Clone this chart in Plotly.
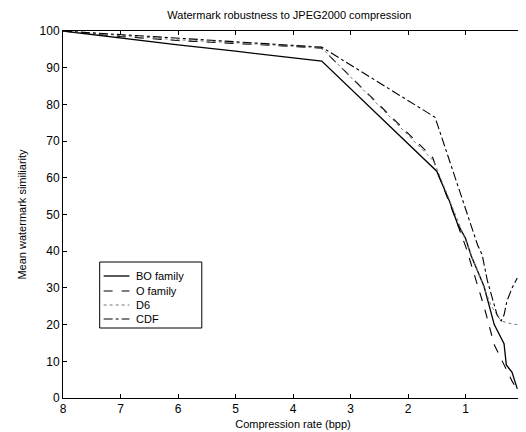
import plotly.graph_objects as go

# Data
bo_x = [8, 7, 6, 5, 4, 3.5, 1.5, 1.28, 1.14, 1.0, 0.9, 0.68, 0.5, 0.33, 0.29, 0.19, 0.1]
bo_y = [100, 98.0, 96.2, 94.5, 92.8, 91.8, 61.8, 53.7, 47.5, 43.5, 38.7, 30.5, 20.0, 14.8, 9.0, 7.0, 2.5]

o_x = [8, 7, 6, 5, 4, 3.5, 1.57, 1.45, 1.36, 1.2, 0.98, 0.84, 0.67, 0.5, 0.33, 0.19, 0.11]
o_y = [100, 98.5, 97.4, 96.7, 95.8, 95.3, 65.5, 60.0, 56.4, 50.0, 40.5, 33.5, 24.5, 14.5, 9.0, 4.6, 2.5]

d6_x = [8, 7, 6, 5, 4, 3.5, 1.55, 1.3, 1.1, 0.9, 0.7, 0.55, 0.38, 0.2, 0.0]
d6_y = [100, 98.7, 97.6, 96.8, 95.9, 95.4, 64.5, 55.0, 47.0, 39.0, 31.0, 25.0, 21.0, 20.2, 19.8]

cdf_x = [8, 7, 6, 5, 4, 3.5, 1.53, 1.45, 1.14, 0.97, 0.79, 0.71, 0.62, 0.53, 0.45, 0.38, 0.33, 0.28, 0.19, 0.1]
cdf_y = [100, 99.0, 98.0, 97.2, 96.2, 95.6, 76.5, 72.7, 58.0, 50.0, 41.7, 39.0, 32.0, 27.0, 22.6, 21.0, 22.6, 26.4, 30.0, 32.7]

series = [
    ("BO family", bo_x, bo_y, "solid", "black", 1.3),
    ("O family", o_x, o_y, "dash", "black", 1.1),
    ("D6", d6_x, d6_y, "dot", "#777777", 1.0),
    ("CDF", cdf_x, cdf_y, "dashdot", "black", 1.1),
]

x_ticks = [0, 1, 2, 3, 4, 5, 6, 7, 8]
y_ticks = [0, 10, 20, 30, 40, 50, 60, 70, 80, 90, 100]

fig = go.Figure()
for name, xs, ys, dash, color, w in series:
    fig.add_trace(go.Scatter(x=xs, y=ys, mode="lines", name=name,
                             line=dict(color=color, width=w, dash=dash),
                             showlegend=False))

FONT = "Liberation Sans, Arial, sans-serif"

fig.update_layout(
    width=526, height=432,
    margin=dict(l=55, r=7, t=23, b=42),
    paper_bgcolor="white", plot_bgcolor="white",
    font=dict(family=FONT, color="black", size=12),
    title=dict(text="Watermark robustness to JPEG2000 compression",
               x=0.535, xanchor="center", y=0.984, yanchor="middle",
               font=dict(size=11, family=FONT)),
    showlegend=False,
)

axis_common = dict(showline=True, linecolor="black", linewidth=1, mirror="ticks",
                   ticks="inside", ticklen=4, tickcolor="black", showgrid=False,
                   zeroline=False, tickfont=dict(size=12, family=FONT))

fig.update_xaxes(range=[8, 0], tickvals=x_ticks, ticktext=[str(v) for v in x_ticks],
                 title=dict(text="Compression rate (bpp)", font=dict(size=11), standoff=4),
                 **axis_common)
fig.update_yaxes(range=[0, 100], tickvals=y_ticks, ticktext=[str(v) for v in y_ticks],
                 title=dict(text="Mean watermark similiarity", font=dict(size=11), standoff=10),
                 **axis_common)

# Manual legend (box, line samples, labels) in paper coordinates
def px(xp):
    return (xp - 55) / 464.0

def py(yp):
    return (390 - yp) / 367.0

fig.add_shape(type="rect", xref="paper", yref="paper",
              x0=px(92), x1=px(195), y0=py(320), y1=py(254),
              line=dict(color="black", width=1), fillcolor="white", layer="above")
rows = [268, 283, 297, 311]
for (name, xs, ys, dash, color, w), ry in zip(series, rows):
    fig.add_shape(type="line", xref="paper", yref="paper",
                  x0=px(96), x1=px(122), y0=py(ry), y1=py(ry),
                  line=dict(color=color, width=w, dash=dash), layer="above")
    fig.add_annotation(xref="paper", yref="paper", x=px(127), y=py(ry),
                       text=name, showarrow=False, xanchor="left", yanchor="middle",
                       font=dict(size=11, family=FONT, color="black"))

fig.write_html("out.html")
